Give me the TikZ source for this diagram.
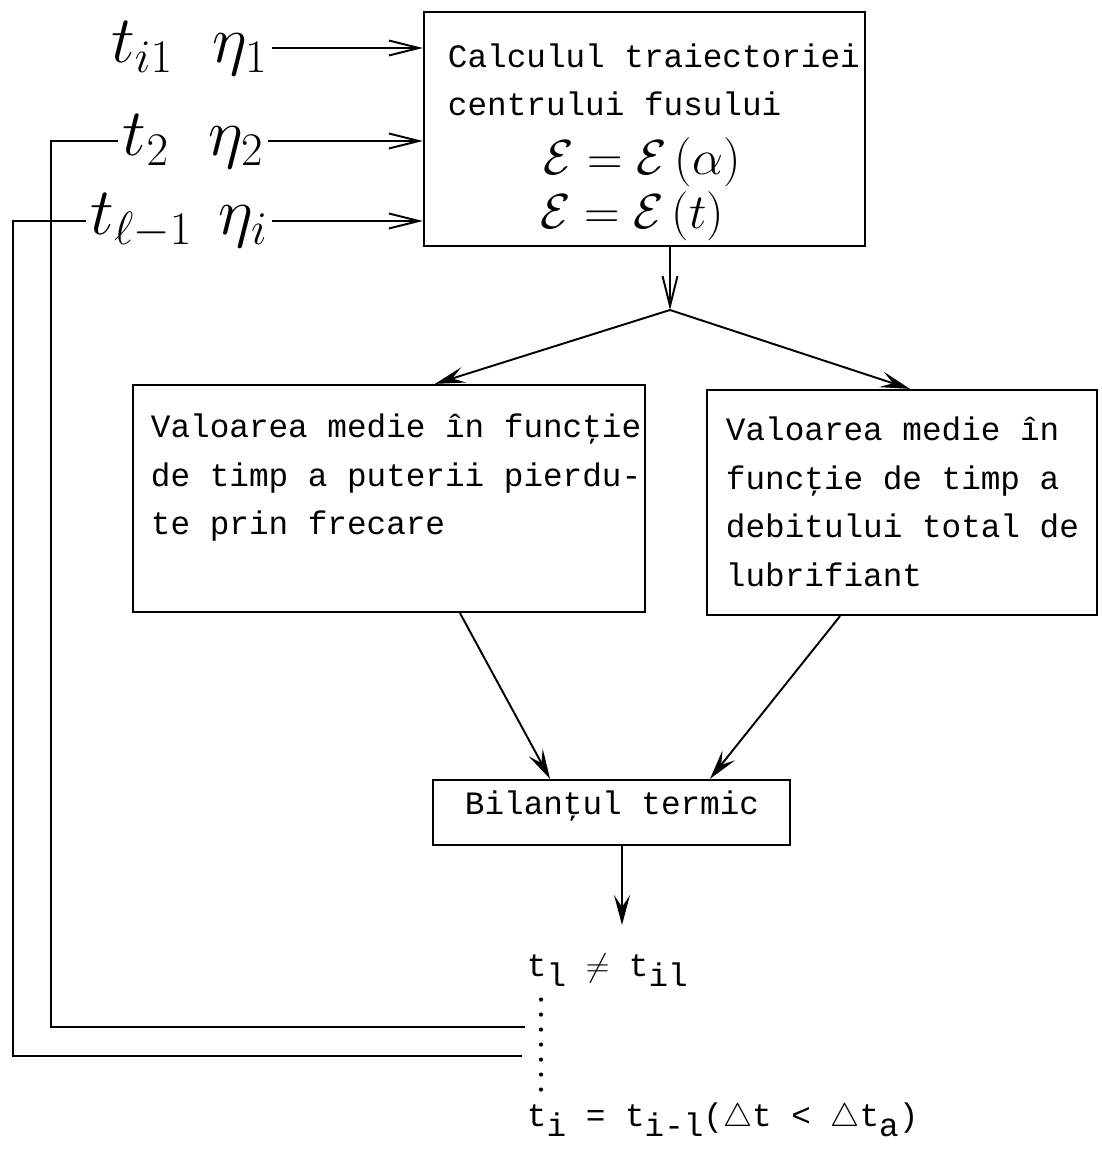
\RequirePackage{fix-cm}
\documentclass[tikz,border=0pt]{standalone}
\usepackage{fontspec}
\newfontfamily\tw{Liberation Mono}
\usetikzlibrary{arrows.meta,positioning}
\newcommand{\tsub}[1]{\raisebox{-0.55ex}{#1}}
\begin{document}
\begin{tikzpicture}[x=0.02cm,y=-0.02cm,line width=1.1pt,
  box/.style={draw, line width=1.3pt, inner sep=0pt},
  txt/.style={font=\tw\fontsize{18.6}{27.6}\selectfont, align=left, inner sep=0pt},
  lbl/.style={font=\fontsize{38}{44}\selectfont, inner sep=2pt},
  frm/.style={font=\fontsize{28}{32}\selectfont, inner sep=0pt},
  inarr/.style={-{Straight Barb[length=0.6cm,width=0.3cm]}},
  arr/.style={-{Stealth[length=0.6cm,width=0.32cm,inset=0.24cm]}},
  dots/.style={line width=2.4pt, line cap=round, dash pattern=on 0pt off 0.3cm}]
\useasboundingbox (0,0) rectangle (1101,1151);
% boxes
\node[box, minimum width=8.82cm, minimum height=4.68cm] (calc) at (644.5,129) {};
\node[txt, anchor=west] (calct) at (447,80) {Calculul traiectoriei\\centrului fusului};
\node[frm] (eps1) at (642,162) {$\mathcal{E}=\mathcal{E}\,(\alpha)$};
\node[frm] (eps2) at (632,216) {$\mathcal{E}=\mathcal{E}\,(t)$};
\node[box, minimum width=10.24cm, minimum height=4.54cm] (med1) at (389,498.5) {};
\node[txt, anchor=west] (med1t) at (150,478) {Valoarea medie în funcţie\\de timp a puterii pierdu-\\te prin frecare};
\node[box, minimum width=7.8cm, minimum height=4.5cm] (med2) at (902,502.5) {};
\node[txt, anchor=west] (med2t) at (725,502) {Valoarea medie în\\funcţie de timp a\\debitului total de\\lubrifiant};
\node[box, minimum width=7.14cm, minimum height=1.3cm] (bil) at (611.5,812.5) {};
\node[txt] (bilt) at (612,806) {Bilanţul termic};
% inputs
\node[lbl, anchor=east] (in1) at (272,48) {$t_{i1}\hspace{0.6em}\eta_1$};
\node[lbl, anchor=east] (in2) at (268,141) {$t_2\hspace{0.6em}\eta_2$};
\node[lbl, anchor=east] (in3) at (272,221) {$t_{\ell-1}\hspace{0.4em}\eta_i$};
\draw[inarr] (in1.east) -- (in1.east -| calc.west);
\draw[inarr] (in2.east) -- (in2.east -| calc.west);
\draw[inarr] (in3.east) -- (in3.east -| calc.west);
% results
\node[txt, anchor=west] (ineq) at (526,970) {t\tsub{l} $\neq$ t\tsub{il}};
\node[txt, anchor=west] (res) at (526,1120) {t\tsub{i} = t\tsub{i-l}($\triangle$t < $\triangle$t\tsub{a})};
% connectors
\coordinate (split) at (670,310);
\coordinate (down) at (622,925);
\coordinate (dotx) at (541,0);
\coordinate (fbx1) at (51,0);
\coordinate (fbx2) at (13,0);
\coordinate (fb1) at (525,1027);
\coordinate (fb2) at (522,1056);
\draw[inarr] (calc.south -| split) -- (split);
\draw[arr] (split) -- ([xshift=0.92cm]med1.north);
\draw[arr] (split) -- ([xshift=0.16cm]med2.north);
\draw[arr] ([xshift=1.42cm]med1.south) -- ([xshift=-1.23cm]bil.north);
\draw[arr] ([xshift=-1.24cm]med2.south) -- ([xshift=1.97cm]bil.north);
\draw[arr] (bil.south -| down) -- (down);
\draw[dots] ([yshift=-0.25cm]ineq.south -| dotx) -- ([yshift=0.2cm]res.north -| dotx);
% feedback
\draw (in2.west) -- (in2.west -| fbx1) |- (fb1);
\draw (in3.west) -- (in3.west -| fbx2) |- (fb2);
\end{tikzpicture}
\end{document}
